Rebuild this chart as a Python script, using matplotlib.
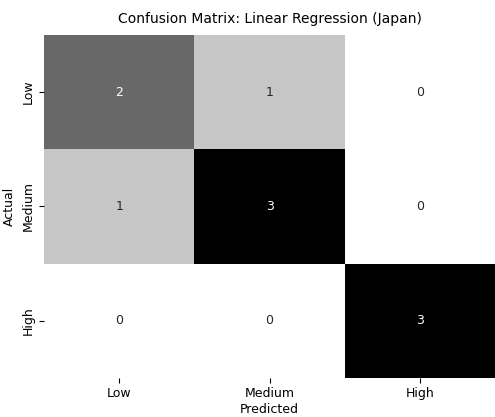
import matplotlib
matplotlib.use("Agg")
import matplotlib.pyplot as plt
import seaborn as sns
import numpy as np

labels = ["Low", "Medium", "High"]
row_low = [2, 1, 0]
row_medium = [1, 3, 0]
row_high = [0, 0, 3]

cm = np.array([row_low, row_medium, row_high])

fig = plt.figure(figsize=(4.95, 4.17), dpi=100)
ax = fig.add_axes([0.089, 0.094, 0.911, 0.822])
sns.heatmap(cm, annot=True, fmt="d", cmap="Greys", cbar=False,
            xticklabels=labels, yticklabels=labels, ax=ax,
            annot_kws={"fontsize": 9})
ax.set_title("Confusion Matrix: Linear Regression (Japan)", fontsize=10, pad=9)
ax.set_xlabel("Predicted", fontsize=9, labelpad=2)
ax.set_ylabel("Actual", fontsize=9)
ax.tick_params(labelsize=9)
ax.tick_params(axis="x", pad=3)
plt.setp(ax.get_yticklabels(), rotation=90, va="center")
fig.savefig("out.png", dpi=100)
